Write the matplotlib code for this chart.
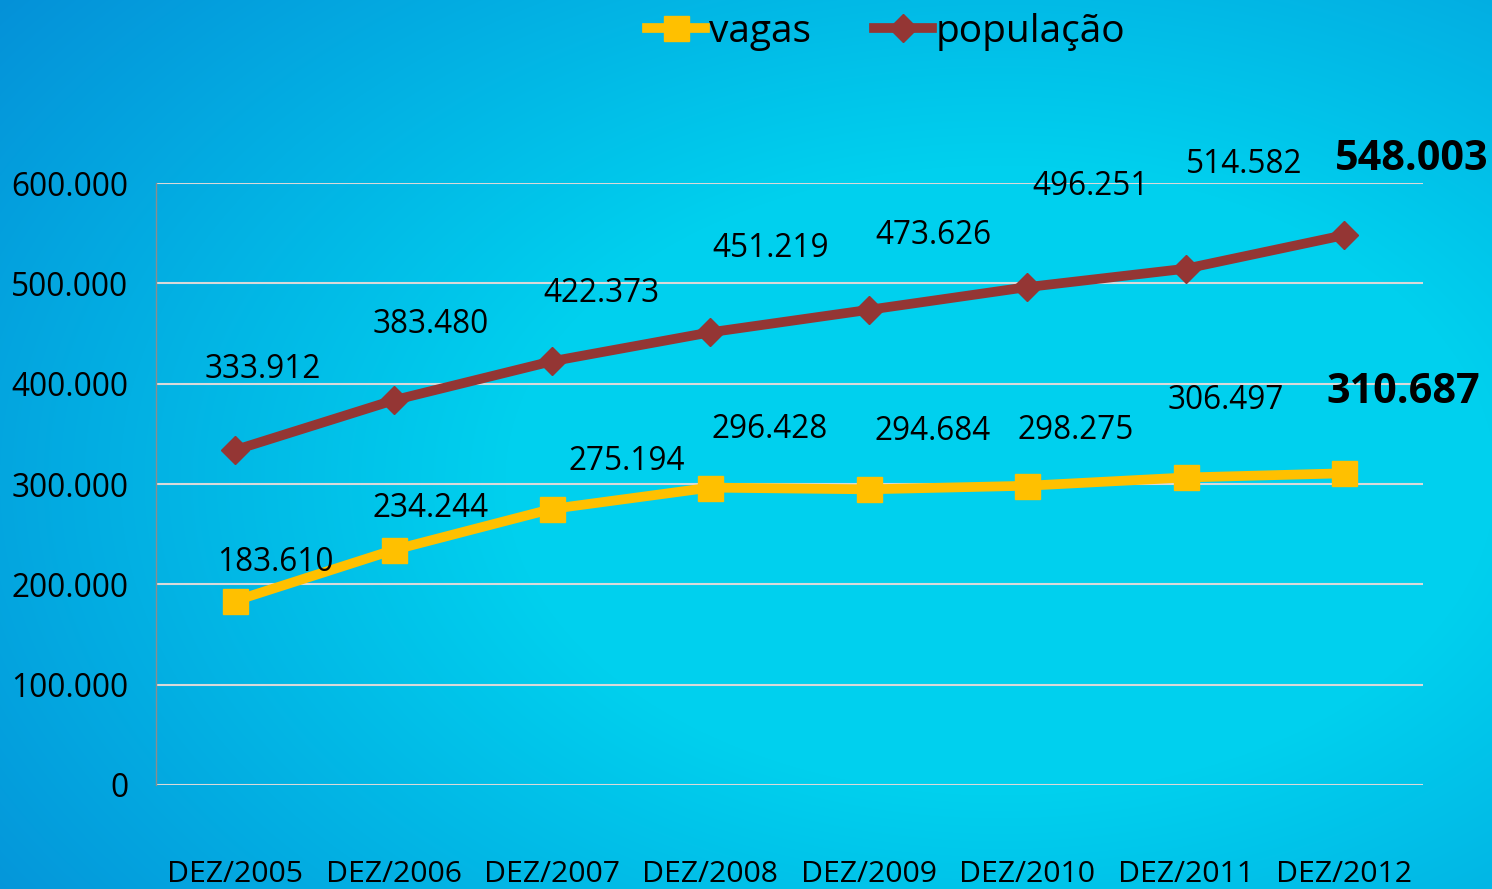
import numpy as np
import matplotlib.pyplot as plt

plt.rcParams['font.family'] = ['Open Sans', 'DejaVu Sans']

categorias = ['DEZ/2005', 'DEZ/2006', 'DEZ/2007', 'DEZ/2008',
              'DEZ/2009', 'DEZ/2010', 'DEZ/2011', 'DEZ/2012']
vagas = [183610, 234244, 275194, 296428, 294684, 298275, 306497, 310687]
populacao = [333912, 383480, 422373, 451219, 473626, 496251, 514582, 548003]
yticks = [0, 100000, 200000, 300000, 400000, 500000, 600000]

# label offsets in pixels (manual placement as in the original)
off_pop = [(27, 80), (37, 76), (49, 68), (60, 84), (65, 74), (63, 101), (59, 104), (68, 76)]
off_vag = [(40, 38), (37, 41), (75, 47), (59, 58), (64, 58), (49, 55), (40, 77), (59, 81)]


def fmt(v):
    return f'{v:,}'.replace(',', '.')


fig = plt.figure(figsize=(14.92, 8.89), dpi=100)

# background gradient
bg = fig.add_axes([0, 0, 1, 1])
h, w = 889, 1492
yy, xx = np.mgrid[0:h, 0:w]
d = np.sqrt(((xx - 1000) / 1100.0) ** 2 + ((yy - 480) / 700.0) ** 2)
f = np.clip((d - 0.45) / 0.7, 0, 1)
c0 = np.array([0, 208, 238]) / 255.0
c1 = np.array([5, 144, 216]) / 255.0
img = c0[None, None, :] * (1 - f[..., None]) + c1[None, None, :] * f[..., None]
bg.imshow(img, aspect='auto', extent=[0, 1, 0, 1])
bg.axis('off')

ax = fig.add_axes([0.1046, 0.117, 0.8492, 0.6771])
ax.patch.set_alpha(0)
x = np.arange(len(categorias))

ax.plot(x, vagas, color='#FFC000', lw=7, marker='s', ms=18, label='vagas', zorder=3)
ax.plot(x, populacao, color='#943634', lw=7, marker='D', ms=14, label='população', zorder=3)

for i in range(len(x)):
    big = i == len(x) - 1
    ax.annotate(fmt(populacao[i]), (x[i], populacao[i]), xytext=off_pop[i],
                textcoords='offset pixels', ha='center', va='center',
                fontsize=29.8 if big else 22.7, fontweight='bold' if big else 'normal',
                color='black', annotation_clip=False)
    ax.annotate(fmt(vagas[i]), (x[i], vagas[i]), xytext=off_vag[i],
                textcoords='offset pixels', ha='center', va='center',
                fontsize=29.8 if big else 22.7, fontweight='bold' if big else 'normal',
                color='black', annotation_clip=False)

ax.set_xlim(-0.5, len(x) - 0.5)
ax.set_ylim(0, 600000)
ax.set_yticks(yticks)
ax.set_yticklabels([fmt(v) for v in yticks])
ax.set_xticks(x)
ax.set_xticklabels(categorias)
ax.grid(axis='y', color='#d9d9d9', lw=1.5)
ax.set_axisbelow(True)
for s in ['top', 'right', 'bottom']:
    ax.spines[s].set_visible(False)
ax.spines['left'].set_color('#8c8c8c')
ax.spines['left'].set_linewidth(1)
ax.tick_params(axis='y', length=0, pad=20, labelsize=22.8)
ax.tick_params(axis='x', length=0, pad=54, labelsize=21.7)

fig.legend(loc='upper center', bbox_to_anchor=(0.594, 1.025), ncol=2, frameon=False,
           fontsize=28, handlelength=1.5, handletextpad=0.1, columnspacing=1.6)

fig.savefig('out.png', dpi=100)
